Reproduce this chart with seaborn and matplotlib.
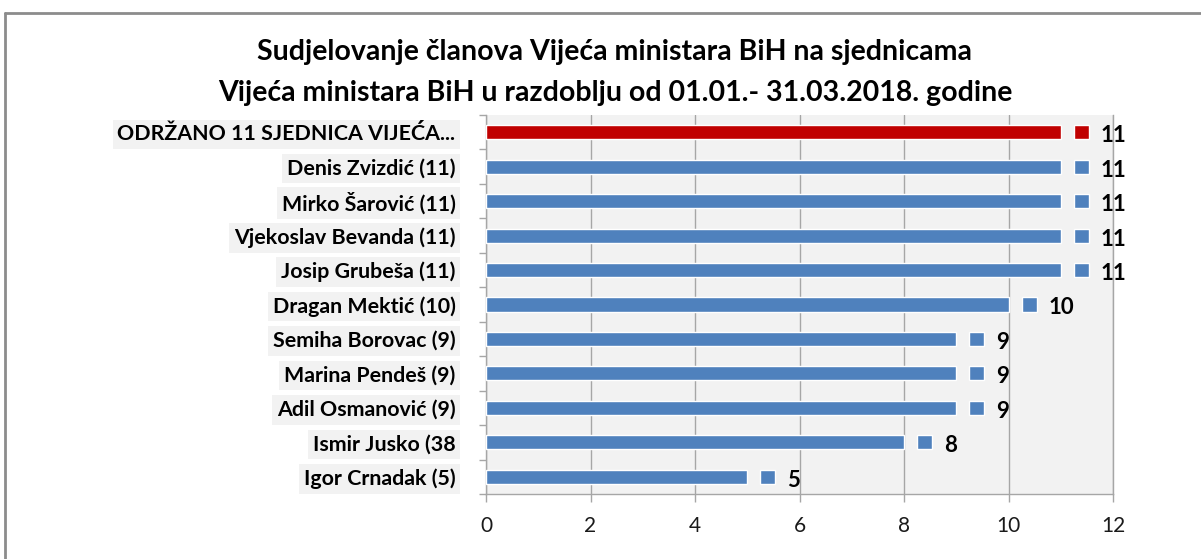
import matplotlib
matplotlib.use("Agg")
import matplotlib.pyplot as plt
import seaborn as sns
import pandas as pd
import numpy as np
from matplotlib.lines import Line2D

names = [
    "ODRŽANO 11 SJEDNICA VIJEĆA...",
    "Denis Zvizdić (11)",
    "Mirko Šarović (11)",
    "Vjekoslav Bevanda (11)",
    "Josip Grubeša (11)",
    "Dragan Mektić (10)",
    "Semiha Borovac (9)",
    "Marina Pendeš (9)",
    "Adil Osmanović (9)",
    "Ismir Jusko (38",
    "Igor Crnadak (5)",
]
values = [11, 11, 11, 11, 11, 10, 9, 9, 9, 8, 5]
groups = ["total"] + ["member"] * 10
title_lines = [
    "Sudjelovanje članova Vijeća ministara BiH na sjednicama",
    "Vijeća ministara BiH u razdoblju od 01.01.- 31.03.2018. godine",
]
xticks = [0, 2, 4, 6, 8, 10, 12]

palette = {"total": "#C00000", "member": "#4F81BD"}

df = pd.DataFrame({"name": names, "value": values, "group": groups})

sns.set_theme(style="white")
plt.rcParams["font.family"] = ["Lato", "DejaVu Sans"]
plt.rcParams["text.color"] = "black"

fig = plt.figure(figsize=(12.01, 5.59), dpi=100)
ax = fig.add_axes([486 / 1201, 1 - 494 / 559, (1113 - 486) / 1201, (494 - 115) / 559])
ax.set_facecolor("#F2F2F2")

sns.barplot(data=df, x="value", y="name", hue="group", palette=palette,
            orient="h", width=0.41, dodge=False, legend=False, ax=ax,
            saturation=1, zorder=3)

# legend-key squares and value labels
for i, (v, g) in enumerate(zip(values, groups)):
    ax.barh(i, 0.29, left=v + 0.25, height=0.41, color=palette[g], zorder=3)
    ax.text(v + 0.76, i + 0.1, str(v), va="center", ha="left",
            fontsize=16, fontweight="bold", color="black", zorder=4)

ax.set_xlim(0, 12)
ax.set_ylim(len(names) - 0.5, -0.5)
ax.set_xticks(xticks)
ax.set_xticklabels([str(t) for t in xticks], fontsize=15, color="#1A1A1A")
ax.set_xlabel("")
ax.set_ylabel("")
ax.grid(axis="x", color="#A6A6A6", linewidth=1.0, zorder=0)
ax.grid(axis="y", visible=False)

for s in ["left", "bottom", "right"]:
    ax.spines[s].set_color("#A6A6A6")
    ax.spines[s].set_linewidth(1.0)
ax.spines["top"].set_visible(False)

ax.tick_params(axis="x", which="major", length=6, color="#A6A6A6", width=1,
               direction="out", pad=10, bottom=True)
ax.tick_params(axis="y", which="major", length=0, pad=22)
ax.set_yticks(np.arange(-0.5, len(names), 1), minor=True)
ax.tick_params(axis="y", which="minor", length=5, color="#A6A6A6", width=1,
               direction="out", left=True)

for lbl in ax.get_yticklabels():
    lbl.set_fontsize(15.4)
    lbl.set_fontweight("bold")
    lbl.set_color("black")
    lbl.set_bbox(dict(boxstyle="square,pad=0.22", facecolor="#F2F2F2",
                      edgecolor="none"))

fig.text(0.512, 1 - 52 / 559, title_lines[0], ha="center", va="center",
         fontsize=20.5, fontweight="bold", color="black")
fig.text(0.512, 1 - 93 / 559, title_lines[1], ha="center", va="center",
         fontsize=20.5, fontweight="bold", color="black")

# outer chart frame
fig.add_artist(Line2D([5 / 1201, 1.0], [1 - 13 / 559, 1 - 13 / 559],
                      transform=fig.transFigure, color="#8C8C8C", linewidth=2))
fig.add_artist(Line2D([5 / 1201, 5 / 1201], [0, 1 - 13 / 559],
                      transform=fig.transFigure, color="#8C8C8C", linewidth=2))

fig.savefig("out.png", dpi=100)
